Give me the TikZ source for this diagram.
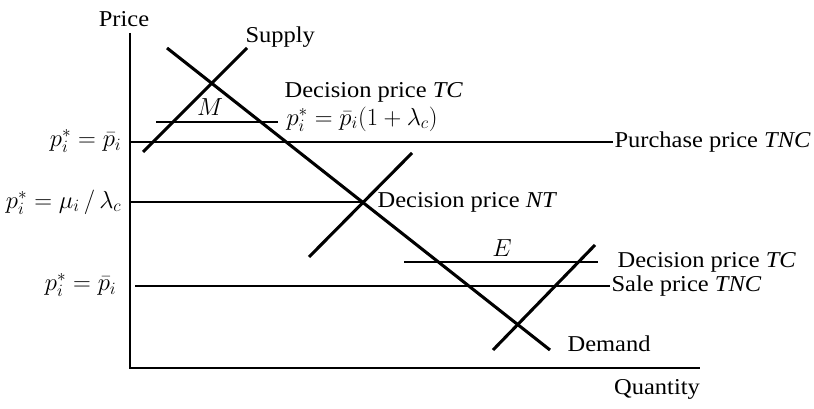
\documentclass[tikz,border=0pt]{standalone}
\usepackage{fix-cm}
\usepackage{fontspec}
\setmainfont{Liberation Serif}[FakeStretch=1.08]
\usepackage{amsmath}
\usetikzlibrary{positioning}

\begin{document}
\begin{tikzpicture}[
  x=0.75pt, y=-0.75pt,
  font=\fontsize{17}{20}\selectfont,
  axis/.style={line width=1.9pt},
  curve/.style={line width=2.3pt},
  level/.style={line width=1.6pt},
  lbl/.style={inner sep=1pt},
  mth/.style={lbl, font=\fontsize{18.5}{22}\selectfont},
  rlbl/.style={lbl, anchor=west},
  llbl/.style={mth, anchor=east}]
\useasboundingbox (0,0) rectangle (814,409);
% axes
\coordinate (top) at (130,33);
\coordinate (orig) at (130,368);
\coordinate (qend) at (700,368);
\draw[axis] (top) -- (orig) -- (qend);
\node[lbl] (price) at (124,19) {Price};
\node[lbl] (qty) at (657,389) {Quantity};
% demand and supply
\coordinate (d1) at (167,48);
\coordinate (d2) at (550,350);
\draw[curve] (d1) -- (d2);
\node[rlbl] (dem) at (566,344) {Demand};
\coordinate (s1) at (143,152);
\coordinate (s2) at (247,48);
\draw[curve] (s1) -- (s2);
\node[rlbl] (sup) at (244,37) {Supply};
\coordinate (sn1) at (309,257);
\coordinate (sn2) at (412,153);
\draw[curve] (sn1) -- (sn2);
\coordinate (se1) at (493,350);
\coordinate (se2) at (595,245);
\draw[curve] (se1) -- (se2);
% price levels
\coordinate (m1) at (156,122);
\coordinate (m2) at (278,122);
\draw[level] (m1) -- (m2);
\node[mth] (M) at (210,107) {$M$};
\node[rlbl] (tcup) at (283,92) {Decision price \textit{TC}};
\node[mth, anchor=west] (tcform) at (285,119) {$p_i^{*} = \bar{p}_i(1 + \lambda_c)$};
\coordinate (pp1) at (130,142);
\coordinate (pp2) at (613,142);
\draw[level] (pp1) -- (pp2);
\node[rlbl] (purch) at (pp2) {Purchase price \textit{TNC}};
\node[llbl] (pbar1) at (123,141) {$p_i^{*} = \bar{p}_i$};
\coordinate (nt1) at (130,202);
\coordinate (nt2) at (363,202);
\draw[level] (nt1) -- (nt2);
\node[rlbl] (ntlab) at (376,202) {Decision price \textit{NT}};
\node[llbl] (mulam) at (123,202) {$p_i^{*} = \mu_i \,/\, \lambda_c$};
\coordinate (e1) at (404,262);
\coordinate (e2) at (598,262);
\draw[level] (e1) -- (e2);
\node[mth] (E) at (502,248) {$E$};
\node[rlbl] (tclow) at (616,262) {Decision price \textit{TC}};
\coordinate (sp1) at (135,286);
\coordinate (sp2) at (610,286);
\draw[level] (sp1) -- (sp2);
\node[rlbl] (sale) at (sp2) {Sale price \textit{TNC}};
\node[llbl] (pbar2) at (118,285) {$p_i^{*} = \bar{p}_i$};
\end{tikzpicture}
\end{document}
